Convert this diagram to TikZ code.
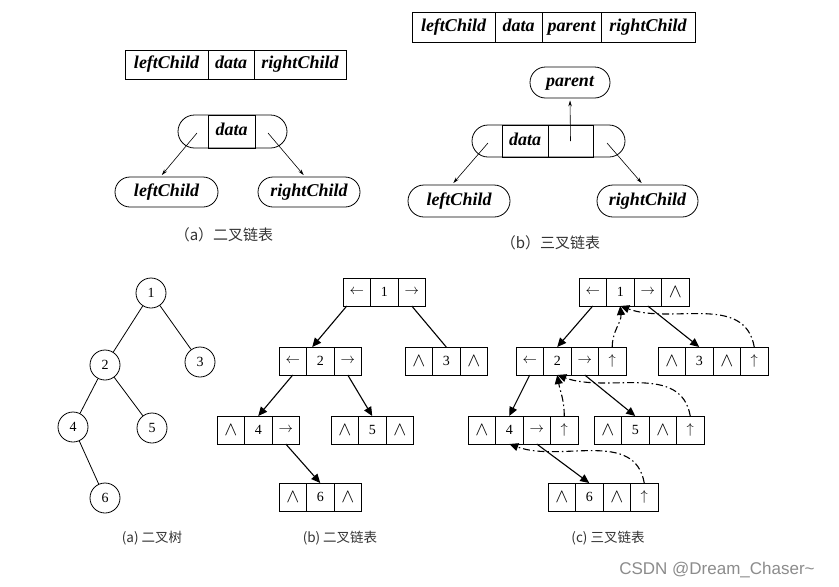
\documentclass[tikz,border=0pt]{standalone}
\usepackage{fontspec}
\setmainfont{Liberation Serif}
\newfontfamily\cjk{Noto Sans CJK SC}
\newfontfamily\wmfont{Liberation Sans}
\usetikzlibrary{arrows.meta,positioning,shapes.misc}
\newcommand{\nilmark}{\scalebox{1.35}{$\wedge$}}

\begin{document}
\begin{tikzpicture}[x=1pt,y=-1pt,
  fld/.style={draw, line width=0.9pt, minimum height=29pt, inner sep=0pt, outer sep=0pt,
    text height=12.5pt, text depth=4pt,
    font=\fontsize{18}{20}\selectfont\bfseries\itshape},
  pill/.style={draw, rounded rectangle, line width=0.8pt, minimum height=31pt, inner sep=0pt,
    text height=12.5pt, text depth=4pt,
    font=\fontsize{18}{20}\selectfont\bfseries\itshape},
  cell/.style={draw, line width=0.8pt, minimum width=27.5pt, minimum height=28pt,
    inner sep=0pt, outer sep=0pt, font=\fontsize{14}{16}\selectfont},
  tnode/.style={draw, circle, line width=0.8pt, minimum size=30pt, inner sep=0pt,
    font=\fontsize{14}{16}\selectfont},
  fine/.style={-{Stealth[length=6pt,width=3.5pt]}, line width=0.6pt, shorten >=2pt},
  ptr/.style={-{Triangle[length=9pt,width=8pt]}, line width=1.1pt},
  uplink/.style={ptr, dash pattern=on 7pt off 3pt on 1.5pt off 3pt},
  capt/.style={font=\cjk\fontsize{13.5}{15}\selectfont, text=black!80},
]
\fill[white] (0,0) rectangle (839,587);
\useasboundingbox (0,0) rectangle (839,587);

% (a) binary linked node
\node[fld, minimum width=83pt, anchor=west] (alf) at (125,64.5) {leftChild};
\node[fld, minimum width=46pt, right=0pt of alf] (adf) {data};
\node[fld, minimum width=92pt, right=0pt of adf] (arf) {rightChild};
\node[pill, minimum width=109pt, minimum height=33pt] (anode) at (232.5,131.5) {};
\node[fld, minimum width=47pt, minimum height=33pt] (adata) at (231.5,131.5) {data};
\node[pill, minimum width=103pt, minimum height=30pt] (alc) at (166.5,192) {leftChild};
\node[pill, minimum width=102pt, minimum height=30pt] (arc) at (309,192) {rightChild};
\coordinate (aLs) at (197,133);
\coordinate (aRs) at (268,133);
\draw[fine] (aLs) -- ([xshift=-6pt]alc.north);
\draw[fine] (aRs) -- ([xshift=-4pt]arc.north);
\node[capt, font=\cjk\fontsize{15}{17}\selectfont] (acap) at (224,235) {（a）二叉链表};

% (b) trinary linked node
\node[fld, minimum width=83pt, minimum height=30pt, anchor=west] (blf) at (412,27) {leftChild};
\node[fld, minimum width=47pt, minimum height=30pt, right=0pt of blf] (bdf) {data};
\node[fld, minimum width=59pt, minimum height=30pt, right=0pt of bdf] (bpf) {parent};
\node[fld, minimum width=94pt, minimum height=30pt, right=0pt of bpf] (brf) {rightChild};
\node[pill, minimum width=80pt] (bpar) at (570,82.5) {parent};
\node[pill, minimum width=153pt, minimum height=32pt] (bnode) at (548.5,141) {};
\node[fld, minimum width=46pt, minimum height=32pt] (bdata) at (525,141) {data};
\node[fld, minimum width=45pt, minimum height=32pt, right=0pt of bdata] (bpc) {};
\node[pill, minimum width=102pt, minimum height=32pt] (blc) at (459,201) {leftChild};
\node[pill, minimum width=101pt, minimum height=32pt] (brc) at (647.5,201) {rightChild};
\coordinate (bLs) at (488,143);
\coordinate (bRs) at (607,143);
\draw[fine] (bpc.center) -- (bpar.south);
\draw[fine] (bLs) -- ([xshift=-7pt]blc.north);
\draw[fine] (bRs) -- ([xshift=-4.5pt]brc.north);
\node[capt, font=\cjk\fontsize{15}{17}\selectfont] (bcap) at (550.5,243) {（b）三叉链表};

% binary tree
\node[tnode] (t1) at (151,293) {1};
\node[tnode] (t2) at (105,365) {2};
\node[tnode] (t3) at (200,362) {3};
\node[tnode] (t4) at (73,427) {4};
\node[tnode] (t5) at (152,428) {5};
\node[tnode] (t6) at (105,498) {6};
\draw[line width=0.8pt] (t1) -- (t2) (t1) -- (t3) (t2) -- (t4) (t2) -- (t5) (t4) -- (t6);
\node[capt] (tcap) at (152,538) {(a) 二叉树};

% binary linked list
\node[cell, anchor=west] (b1l) at (343,292) {$\leftarrow$};
\node[cell, right=0pt of b1l] (b1d) {1};
\node[cell, right=0pt of b1d] (b1r) {$\rightarrow$};
\node[cell, anchor=west] (b2l) at (279,361) {$\leftarrow$};
\node[cell, right=0pt of b2l] (b2d) {2};
\node[cell, right=0pt of b2d] (b2r) {$\rightarrow$};
\node[cell, anchor=west] (b3l) at (405,361) {\nilmark};
\node[cell, right=0pt of b3l] (b3d) {3};
\node[cell, right=0pt of b3d] (b3r) {\nilmark};
\node[cell, anchor=west] (b4l) at (217,430) {\nilmark};
\node[cell, right=0pt of b4l] (b4d) {4};
\node[cell, right=0pt of b4d] (b4r) {$\rightarrow$};
\node[cell, anchor=west] (b5l) at (331,430) {\nilmark};
\node[cell, right=0pt of b5l] (b5d) {5};
\node[cell, right=0pt of b5d] (b5r) {\nilmark};
\node[cell, anchor=west] (b6l) at (279,497) {\nilmark};
\node[cell, right=0pt of b6l] (b6d) {6};
\node[cell, right=0pt of b6d] (b6r) {\nilmark};
\draw[ptr] ([xshift=-10pt]b1l.south) -- ([xshift=-8pt]b2d.north);
\draw[line width=1.1pt] (b1r.south) -- (b3d.north);
\draw[ptr] (b2l.south) -- (b4d.north);
\draw[ptr] (b2r.south) -- (b5d.north);
\draw[ptr] (b4r.south) -- (b6d.north);
\node[capt] (lcap) at (340,538) {(b) 二叉链表};

% trinary linked list
\node[cell, anchor=west] (c1l) at (579,292) {$\leftarrow$};
\node[cell, right=0pt of c1l] (c1d) {1};
\node[cell, right=0pt of c1d] (c1r) {$\rightarrow$};
\node[cell, right=0pt of c1r] (c1p) {\nilmark};
\node[cell, anchor=west] (c2l) at (516,361) {$\leftarrow$};
\node[cell, right=0pt of c2l] (c2d) {2};
\node[cell, right=0pt of c2d] (c2r) {$\rightarrow$};
\node[cell, right=0pt of c2r] (c2p) {$\uparrow$};
\node[cell, anchor=west] (c3l) at (658,361) {\nilmark};
\node[cell, right=0pt of c3l] (c3d) {3};
\node[cell, right=0pt of c3d] (c3r) {\nilmark};
\node[cell, right=0pt of c3r] (c3p) {$\uparrow$};
\node[cell, anchor=west] (c4l) at (468,430) {\nilmark};
\node[cell, right=0pt of c4l] (c4d) {4};
\node[cell, right=0pt of c4d] (c4r) {$\rightarrow$};
\node[cell, right=0pt of c4r] (c4p) {$\uparrow$};
\node[cell, anchor=west] (c5l) at (594,430) {\nilmark};
\node[cell, right=0pt of c5l] (c5d) {5};
\node[cell, right=0pt of c5d] (c5r) {\nilmark};
\node[cell, right=0pt of c5r] (c5p) {$\uparrow$};
\node[cell, anchor=west] (c6l) at (548,497) {\nilmark};
\node[cell, right=0pt of c6l] (c6d) {6};
\node[cell, right=0pt of c6d] (c6r) {\nilmark};
\node[cell, right=0pt of c6r] (c6p) {$\uparrow$};
\draw[ptr] (c1l.south) -- (c2d.north);
\draw[ptr] (c1r.south) -- (c3d.north);
\draw[ptr] (c2l.south) -- (c4d.north);
\draw[ptr] (c2r.south) -- (c5d.north);
\draw[ptr] (c4r.south) -- (c6d.north);
\draw[uplink] (c2p.north) to[out=90, in=-85] (c1d.south);
\draw[uplink] (c3p.north) to[out=100, in=-20] (c1d.south);
\draw[uplink] (c4p.north) to[out=90, in=-80] (c2d.south);
\draw[uplink] (c5p.north) to[out=100, in=-20] (c2d.south);
\draw[uplink] (c6p.north) to[out=100, in=-20] (c4d.south);
\node[capt] (ccap) at (608,538) {(c) 三叉链表};

\node[font=\wmfont\fontsize{17}{19}\selectfont, text=black!45] (mark) at (717,570) {CSDN @Dream\_Chaser\textasciitilde};
\end{tikzpicture}
\end{document}
